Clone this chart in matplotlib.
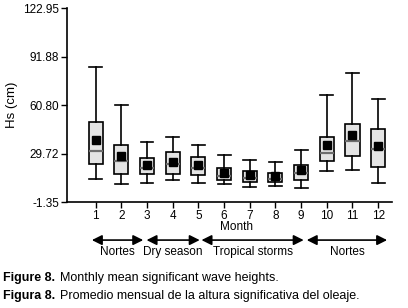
import matplotlib
matplotlib.use("Agg")
import matplotlib.pyplot as plt

plt.rcParams['font.family'] = ['Liberation Sans', 'DejaVu Sans']

# monthly stats (cm)
months = [1, 2, 3, 4, 5, 6, 7, 8, 9, 10, 11, 12]
whis_lo = [13.6, 10.4, 11.1, 12.5, 11.1, 10.0, 8.0, 8.7, 7.9, 18.5, 19.0, 11.1]
q1 = [23.3, 16.9, 16.9, 16.9, 16.2, 13.0, 11.7, 11.5, 13.0, 25.2, 28.4, 21.4]
med = [31.6, 25.0, 20.7, 23.3, 20.7, 15.6, 14.3, 13.6, 17.1, 30.1, 37.6, 32.7]
q3 = [49.7, 34.9, 27.1, 31.0, 27.5, 20.7, 18.8, 17.5, 22.6, 40.0, 48.4, 45.2]
whis_hi = [85.0, 60.8, 37.4, 40.4, 35.1, 29.1, 25.4, 24.3, 32.3, 67.4, 81.4, 64.4]
means = [38.3, 28.0, 22.4, 24.3, 22.4, 17.5, 15.8, 15.3, 19.0, 35.1, 41.5, 34.6]

yticks = [-1.35, 29.72, 60.80, 91.88, 122.95]

# seasons: (label, start, end) in month units
seasons = [("Nortes", 0.85, 2.85),
           ("Dry season", 2.98, 5.05),
           ("Tropical storms", 5.12, 9.1),
           ("Nortes", 9.22, 12.35)]

stats = []
for i in range(len(months)):
    stats.append({'whislo': whis_lo[i], 'q1': q1[i], 'med': med[i], 'q3': q3[i],
                  'whishi': whis_hi[i], 'mean': means[i], 'fliers': []})

fig = plt.figure(figsize=(4.08, 3.08), dpi=100)
ax = fig.add_axes([0.1654, 0.344, 0.796, 0.630])

ax.bxp(stats, positions=months, widths=0.55, capwidths=0.5, patch_artist=True,
       showmeans=True, showfliers=False,
       boxprops=dict(facecolor='#e4e4e4', edgecolor='black', linewidth=1.2),
       medianprops=dict(color='#6e6e6e', linewidth=1.6),
       whiskerprops=dict(color='black', linewidth=1.2),
       capprops=dict(color='black', linewidth=1.2),
       meanprops=dict(marker='s', markerfacecolor='black', markeredgecolor='black',
                      markersize=5.5))

ax.set_xlim(-0.1, 12.55)
ax.set_ylim(-1.35, 122.95)
ax.set_xticks(months)
ax.set_xticklabels([str(m) for m in months])
ax.set_yticks(yticks)
ax.set_yticklabels([f"{v:.2f}" for v in yticks])
ax.tick_params(labelsize=8.5, width=1, length=4, pad=2)
ax.spines['top'].set_visible(False)
ax.spines['right'].set_visible(False)
ax.spines['left'].set_linewidth(1.2)
ax.spines['bottom'].set_linewidth(1.2)
ax.set_ylabel("Hs (cm)", fontsize=9.5, labelpad=4)

ax.text(6.5, -0.128, "Month", transform=ax.get_xaxis_transform(),
        ha='center', va='center', fontsize=8.5)

for name, x0, x1 in seasons:
    ax.annotate("", xy=(x0, -0.196), xytext=(x1, -0.196),
                xycoords=('data', 'axes fraction'), textcoords=('data', 'axes fraction'),
                arrowprops=dict(arrowstyle='<|-|>,head_length=0.6,head_width=0.3',
                                color='black', lw=1.2, shrinkA=0, shrinkB=0),
                annotation_clip=False)
    ax.text((x0 + x1) / 2, -0.255, name, transform=ax.get_xaxis_transform(),
            ha='center', va='center', fontsize=8.5)

fig.text(0.008, 0.098, "Figure 8.", fontsize=9, fontweight='bold', va='center')
fig.text(0.146, 0.098, "Monthly mean significant wave heights.", fontsize=9, va='center')
fig.text(0.008, 0.038, "Figura 8.", fontsize=9, fontweight='bold', va='center')
fig.text(0.146, 0.038, "Promedio mensual de la altura significativa del oleaje.",
         fontsize=9, va='center')

fig.savefig("out.png", dpi=100)
